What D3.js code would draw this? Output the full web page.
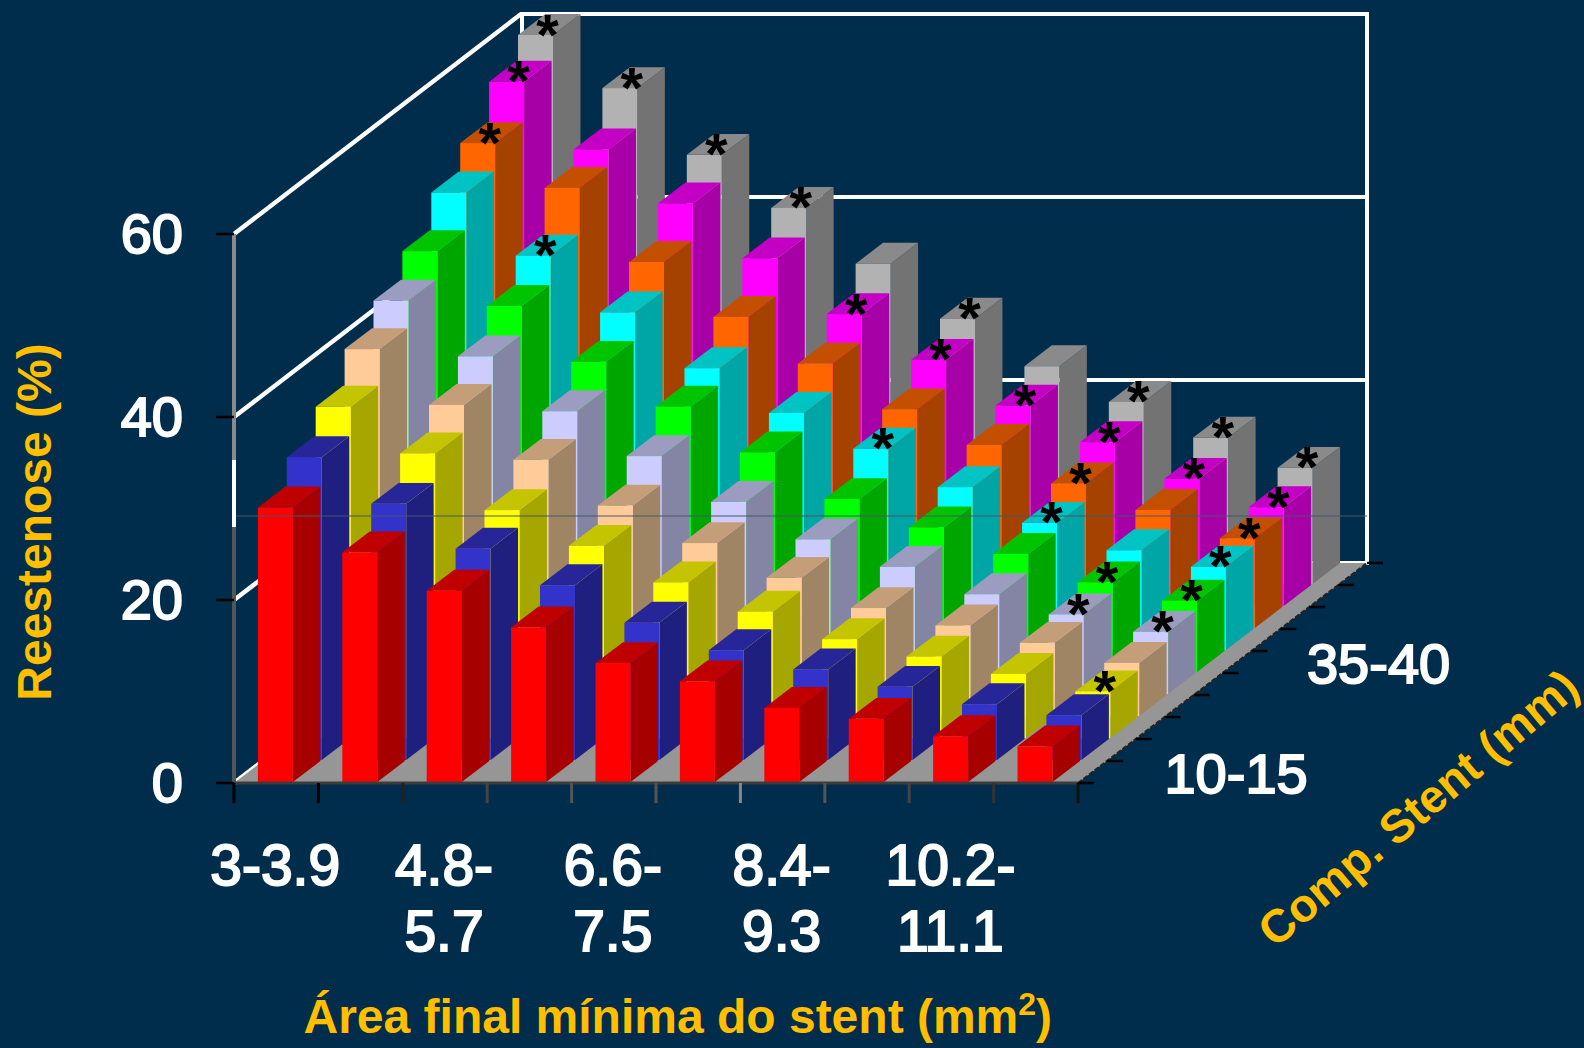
<!DOCTYPE html>
<html>
<head>
<meta charset="utf-8">
<script src="https://cdn.jsdelivr.net/npm/d3@7/dist/d3.min.js"></script>
<style>
  html, body { margin: 0; padding: 0; background: #012d4d; }
  svg { display: block; }
  text { font-family: "Liberation Sans", Arial, sans-serif; }
</style>
</head>
<body>
<svg id="chart" width="1584" height="1048"></svg>
<script>
// Restenosis (%) by minimal final stent area and stent length.
const areaSlots = d3.range(10);
const areaLabels = [
  { slot: 0, lines: ["3-3.9"] },
  { slot: 2, lines: ["4.8-", "5.7"] },
  { slot: 4, lines: ["6.6-", "7.5"] },
  { slot: 6, lines: ["8.4-", "9.3"] },
  { slot: 8, lines: ["10.2-", "11.1"] }
];
const lengthLabels = [
  { row: 0, text: "10-15" },
  { row: 5, text: "35-40" }
];
const percentTicks = [0, 20, 40, 60];

// One array per stent-length row, front row first.
const rowRed      = [30, 25.1, 20.9, 16.9, 13, 11, 8.1, 6.9, 5, 3.9];
const rowBlue     = [33.1, 28, 23.1, 19.1, 15, 12, 9.9, 8, 6.1, 4.9];
const rowYellow   = [36.2, 31.1, 24.9, 21, 17, 13.8, 10.8, 8.9, 7, 5.1];
const rowPeach    = [40.1, 34, 28, 23, 18.9, 15.1, 11.8, 9.9, 8, 5.8];
const rowLavender = [43, 36.9, 30.9, 26, 21, 16.9, 13.9, 10.9, 8.7, 6.8];
const rowGreen    = [46, 40, 33.9, 29, 24, 18.9, 15.8, 12.9, 9.8, 7.8];
const rowCyan     = [50, 43.1, 36.9, 30.8, 25.9, 22, 17.8, 13.9, 10.9, 9.1];
const rowOrange   = [53, 48.1, 40, 34, 28.9, 23.9, 20, 15.8, 12.9, 9.8];
const rowMagenta  = [57.3, 49.9, 44, 38, 31.9, 26.9, 21.9, 17.9, 13.9, 10.8];
const rowGrey     = [60, 54.2, 46.9, 41.1, 35, 29, 23.8, 19.9, 16, 12.7];
const rows = [rowRed, rowBlue, rowYellow, rowPeach, rowLavender, rowGreen, rowCyan, rowOrange, rowMagenta, rowGrey];

// Front, top and side shades of each row.
const rowFront = ["#ff0000", "#3333cc", "#ffff00", "#ffcc99", "#ccccff", "#00ff00", "#00ffff", "#ff6600", "#ff00ff", "#b2b2b2"];
const rowTop   = ["#c00000", "#262699", "#c4c400", "#c49e78", "#9c9cc0", "#00c400", "#00c4c4", "#c44f00", "#c400c4", "#8a8a8a"];
const rowSide  = ["#a60000", "#1f1f80", "#a6a600", "#a08564", "#8484a4", "#00a600", "#00a6a6", "#a64200", "#a600a6", "#737373"];

// Bars flagged as significant: [area slot, row].
const starred = [
  [0, 7], [0, 8], [0, 9], [1, 6], [1, 9], [2, 9], [3, 9], [4, 8],
  [5, 6], [5, 8], [5, 9], [6, 8], [7, 6], [7, 7], [7, 8], [7, 9],
  [8, 4], [8, 5], [8, 8], [8, 9], [9, 2], [9, 4], [9, 5], [9, 6], [9, 7], [9, 8], [9, 9]
];

const svg = d3.select("#chart");
const axisY = 783;
const floorLeft = 234, floorRight = 1078;
const depthX = d3.scaleLinear().domain([0, 10]).range([0, 289]);
const depthY = d3.scaleLinear().domain([0, 10]).range([0, -220]);
const height = d3.scaleLinear().domain([0, 60]).range([0, 549]);
const slotStep = (floorRight - floorLeft) / areaSlots.length;
const x = d3.scaleBand().domain(areaSlots).range([floorLeft, floorRight])
  .paddingInner(1 - 35 / slotStep).paddingOuter((1 - 35 / slotStep) / 2);

const barDepth = 0.95;  // share of a row taken up by its bar
const barShift = -0.8;  // bars sit slightly left of their band centre
const poly = pts => pts.map(p => p.join(",")).join(" ");

// Walls: value lines on the left and back planes.
const backLeft = floorLeft + 287, backRight = floorRight + depthX(10);
const backY = v => axisY + depthY(10) - height(v);
const wall = svg.append("g").attr("stroke", "#fff").attr("fill", "none");
wall.selectAll(".side").data(percentTicks).join("line")
  .attr("stroke-width", 4.4)
  .attr("x1", floorLeft).attr("y1", v => axisY - height(v))
  .attr("x2", backLeft).attr("y2", backY);
wall.selectAll(".back").data(percentTicks).join("line")
  .attr("stroke-width", 4)
  .attr("x1", backLeft).attr("y1", backY)
  .attr("x2", backRight).attr("y2", backY);
wall.append("line").attr("stroke-width", 4).attr("x1", backLeft + 1).attr("x2", backLeft + 1).attr("y1", backY(60) - 2).attr("y2", backY(0));
wall.append("line").attr("stroke-width", 4).attr("x1", backRight).attr("x2", backRight).attr("y1", backY(60) - 2).attr("y2", backY(0) + 2);

// Floor.
svg.append("polygon")
  .attr("points", poly([[floorLeft, axisY], [floorRight, axisY], [backRight, axisY + depthY(10)], [backLeft, axisY + depthY(10)]]))
  .attr("fill", "#969696");

// Bars, painted from the back row forward.
const cells = [];
d3.range(rows.length - 1, -1, -1).forEach(r => {
  areaSlots.forEach(s => cells.push({ s, r, v: rows[r][s] }));
});
const frontX = d => x(d.s) + barShift + depthX(d.r);
const frontBase = d => axisY - 1 + depthY(d.r);
const frontTop = d => frontBase(d) - height(d.v);
const bars = svg.append("g").selectAll("g").data(cells).join("g");
bars.append("polygon").attr("fill", d => rowSide[d.r]).attr("points", d => {
  const xr = frontX(d) + x.bandwidth(), dx = depthX(barDepth), dy = depthY(barDepth);
  return poly([[xr, frontTop(d)], [xr + dx, frontTop(d) + dy], [xr + dx, frontBase(d) + dy], [xr, frontBase(d)]]);
});
bars.append("polygon").attr("fill", d => rowTop[d.r]).attr("points", d => {
  const xl = frontX(d), w = x.bandwidth(), dx = depthX(barDepth), dy = depthY(barDepth);
  return poly([[xl, frontTop(d)], [xl + w, frontTop(d)], [xl + w + dx, frontTop(d) + dy], [xl + dx, frontTop(d) + dy]]);
});
bars.append("rect").attr("fill", d => rowFront[d.r])
  .attr("x", frontX).attr("y", frontTop)
  .attr("width", x.bandwidth()).attr("height", d => height(d.v));

// Faint horizontal rule across the plot.
svg.append("line").attr("x1", floorLeft).attr("x2", backRight).attr("y1", 516).attr("y2", 516)
  .attr("stroke", "#45596b").attr("stroke-width", 1.2);

// Value axis.
const axisSegments = [[234, 460, "#8a8a8a"], [460, 527, "#ffffff"], [527, 783, "#555555"]];
svg.append("g").selectAll("line").data(axisSegments).join("line")
  .attr("x1", floorLeft).attr("x2", floorLeft).attr("y1", d => d[0]).attr("y2", d => d[1])
  .attr("stroke", d => d[2]).attr("stroke-width", 4);
svg.append("g").selectAll("line").data(percentTicks).join("line")
  .attr("x1", floorLeft - 18).attr("x2", floorLeft).attr("y1", v => axisY - height(v)).attr("y2", v => axisY - height(v))
  .attr("stroke", "#000").attr("stroke-width", 2.5);
svg.append("g").selectAll("text").data(percentTicks).join("text")
  .attr("x", 183).attr("y", v => axisY - height(v) + 18.5)
  .attr("text-anchor", "end").attr("font-size", 56)
  .attr("fill", "#fff").attr("stroke", "#fff").attr("stroke-width", 2).text(d => d);

// Area axis.
const tickGreys = ["#000", "#000", "#222", "#444", "#555", "#555", "#888", "#555", "#444", "#333", "#111"];
svg.append("line").attr("x1", floorLeft).attr("x2", floorRight).attr("y1", axisY).attr("y2", axisY)
  .attr("stroke", "#3c3c3c").attr("stroke-width", 3);
svg.append("g").selectAll("line").data(d3.range(11)).join("line")
  .attr("x1", i => floorLeft + i * slotStep).attr("x2", i => floorLeft + i * slotStep)
  .attr("y1", axisY).attr("y2", axisY + 20)
  .attr("stroke", i => tickGreys[i]).attr("stroke-width", 3);
const areaText = svg.append("g").selectAll("text").data(areaLabels).join("text")
  .attr("text-anchor", "middle").attr("font-size", 57)
  .attr("fill", "#fff").attr("stroke", "#fff").attr("stroke-width", 2);
areaText.selectAll("tspan").data(d => d.lines.map(t => ({ t, s: d.slot }))).join("tspan")
  .attr("x", d => x(d.s) + x.bandwidth() / 2 - 1)
  .attr("y", (d, i) => 885 + i * 65.8)
  .text(d => d.t);

// Length axis.
svg.append("line").attr("x1", floorRight).attr("y1", axisY).attr("x2", backRight).attr("y2", axisY + depthY(10))
  .attr("stroke", "#222").attr("stroke-width", 2).attr("stroke-dasharray", "5 2");
svg.append("g").selectAll("line").data(d3.range(11)).join("line")
  .attr("x1", j => floorRight + depthX(j)).attr("x2", j => floorRight + depthX(j) + 16)
  .attr("y1", j => axisY + depthY(j)).attr("y2", j => axisY + depthY(j))
  .attr("stroke", "#000").attr("stroke-width", 2.5);
svg.append("g").selectAll("text").data(lengthLabels).join("text")
  .attr("x", d => floorRight + depthX(d.row + 0.5) + 72 - d.row * 0.4)
  .attr("y", d => axisY + depthY(d.row + 0.5) + 21)
  .attr("font-size", 56)
  .attr("fill", "#fff").attr("stroke", "#fff").attr("stroke-width", 2).text(d => d.text);

// Significance stars sit on the top face of their bars.
svg.append("g").selectAll("text").data(starred).join("text")
  .attr("x", ([s, r]) => frontX({ s, r }) + 29.5)
  .attr("y", ([s, r]) => frontTop({ s, r, v: rows[r][s] }) + 19.5)
  .attr("text-anchor", "middle").attr("font-size", 58).attr("font-weight", "bold")
  .attr("fill", "#000").text("*");

// Axis titles.
const gold = "#ffbe00";
svg.append("text").attr("transform", "translate(51,522) rotate(-90)")
  .attr("text-anchor", "middle").attr("font-size", 48).attr("font-weight", "bold")
  .attr("fill", gold).text("Reestenose (%)");
const areaTitle = svg.append("text").attr("x", 303.5).attr("y", 1033)
  .attr("font-size", 48).attr("font-weight", "bold").attr("fill", gold);
areaTitle.append("tspan").text("Área final mínima do stent (mm");
areaTitle.append("tspan").attr("baseline-shift", "super").attr("font-size", 32).text("2");
areaTitle.append("tspan").text(")");
svg.append("text").attr("transform", "translate(1275,949) rotate(-40)")
  .attr("font-size", 46.5).attr("font-weight", "bold").attr("fill", gold).text("Comp. Stent (mm)");
</script>
</body>
</html>
